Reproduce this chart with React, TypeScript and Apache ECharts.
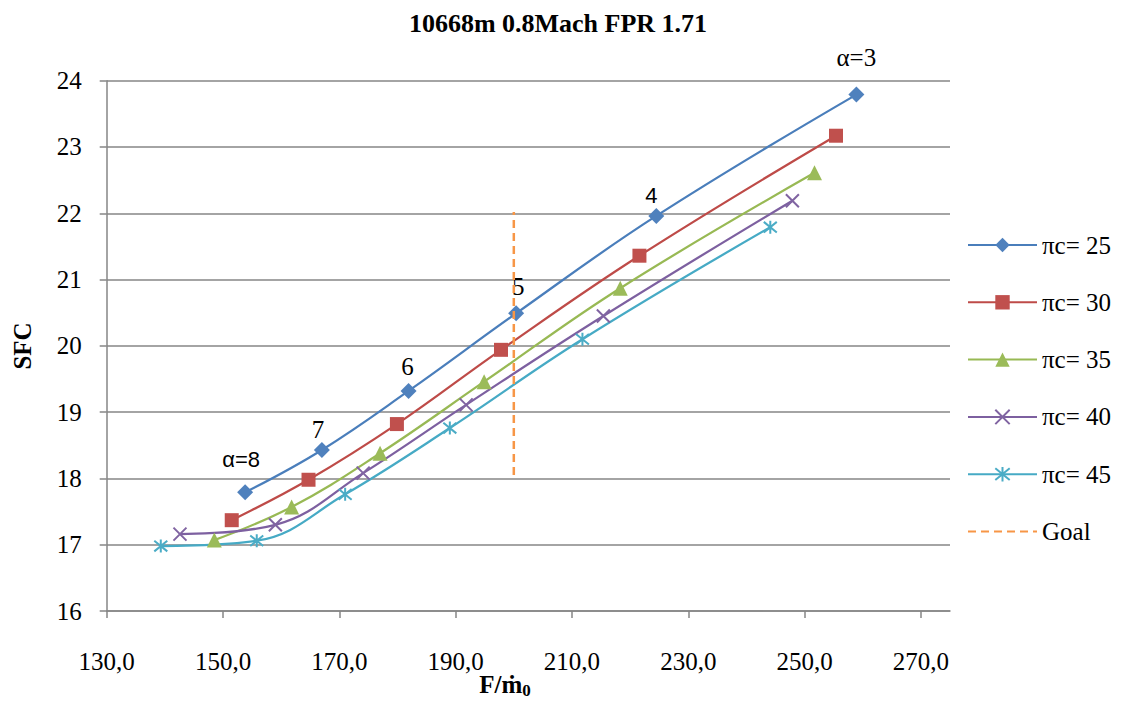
import React, { useEffect, useRef } from "react";
import * as echarts from "echarts";

const chartTitle = "10668m 0.8Mach FPR 1.71";
const xTicks = [130, 150, 170, 190, 210, 230, 250, 270];

const seriesNames = ["πc= 25", "πc= 30", "πc= 35", "πc= 40", "πc= 45"];
const goalName = "Goal";

const pc25X = [153.8, 167.0, 181.9, 200.4, 224.5, 258.9];
const pc25Y = [17.79, 18.43, 19.32, 20.49, 21.96, 23.79];
const pc30X = [151.5, 164.7, 179.9, 197.8, 221.6, 255.4];
const pc30Y = [17.37, 17.98, 18.82, 19.94, 21.36, 23.17];
const pc35X = [148.5, 161.8, 177.0, 194.9, 218.3, 251.7];
const pc35Y = [17.07, 17.57, 18.38, 19.46, 20.87, 22.61];
const pc40X = [142.6, 159.0, 174.1, 191.8, 215.4, 247.9];
const pc40Y = [17.16, 17.3, 18.08, 19.11, 20.45, 22.19];
const pc45X = [139.3, 155.8, 171.0, 189.0, 211.8, 244.1];
const pc45Y = [16.98, 17.06, 17.76, 18.76, 20.1, 21.79];

const goalX = [200, 200];
const goalY = [18.05, 22.02];

const alphaLabels = ["α=8", "7", "6", "5", "4", "α=3"];
const alphaLabelSans = [true, false, false, false, true, false];
const alphaLabelOffsets = [
  [-4, -12.5],
  [-4, -0.5],
  [-1, -4.5],
  [2, -6.5],
  [-5, -0.5],
  [0, -17.5],
];

const markerColors = ["#4F81BD", "#C0504D", "#9BBB59", "#8064A2", "#4BACC6"];
const lineColors = ["#4A7EBB", "#BE4B48", "#98B954", "#7D60A0", "#46AAC5"];
const goalColor = "#F79646";

const SERIF = "Liberation Serif";
const SANS = "Liberation Sans";

const xPath = "path://M0,0L20,20M20,0L0,20";
const starPath = "path://M1,1L19,19M19,1L1,19M10,-1L10,21";

function pairs(xs: number[], ys: number[]) {
  return xs.map((x, i) => [x, ys[i]]);
}

export default function App() {
  const ref = useRef<HTMLDivElement>(null);

  useEffect(() => {
    document.body.style.margin = "0";
    if (!ref.current) return;
    const chart = echarts.init(ref.current, null, { renderer: "svg" });

    const gray = "#868686";

    const mk = (
      idx: number,
      data: any[],
      symbol: string,
      symbolSize: number,
      stroked: boolean
    ) => ({
      name: seriesNames[idx],
      type: "line",
      data,
      smooth: 0.4,
      symbol,
      symbolSize,
      showAllSymbol: true,
      lineStyle: { color: lineColors[idx], width: 2.25 },
      itemStyle: stroked
        ? { color: markerColors[idx], borderColor: markerColors[idx], borderWidth: 2 }
        : { color: markerColors[idx], borderWidth: 0 },
      z: 3,
    });

    const pc25Data = pc25X.map((x, i) => ({
      value: [x, pc25Y[i]],
      label: {
        show: true,
        position: "top",
        distance: 0,
        formatter: alphaLabels[i],
        offset: alphaLabelOffsets[i],
        fontFamily: alphaLabelSans[i] ? SANS : SERIF,
        fontSize: alphaLabelSans[i] ? 22 : 25,
        lineHeight: 24,
        color: "#000",
      },
    }));

    const option: any = {
      animation: false,
      backgroundColor: "#ffffff",
      title: {
        text: chartTitle,
        left: 553,
        top: 5,
        textAlign: "center",
        textStyle: {
          fontFamily: SERIF,
          fontWeight: "bold",
          fontSize: 26,
          color: "#000",
        },
      },
      grid: {
        left: 106.7,
        right: 172,
        top: 80.7,
        bottom: 92,
        containLabel: false,
        outerBoundsMode: "none",
      },
      xAxis: {
        type: "value",
        min: 130,
        max: 275,
        interval: 20,
        axisLine: { show: true, lineStyle: { color: gray, width: 1.5 } },
        axisTick: {
          show: true,
          length: 7,
          customValues: xTicks,
          lineStyle: { color: gray, width: 1.5 },
        },
        axisLabel: {
          customValues: xTicks,
          formatter: (v: number) => v.toFixed(1).replace(".", ","),
          fontFamily: SERIF,
          fontSize: 25,
          color: "#000",
          margin: 38,
        },
        splitLine: { show: false },
      },
      yAxis: {
        type: "value",
        min: 16,
        max: 24,
        interval: 1,
        axisLine: { show: true, lineStyle: { color: gray, width: 1.5 } },
        axisTick: { show: true, length: 7, lineStyle: { color: gray, width: 1.5 } },
        axisLabel: {
          fontFamily: SERIF,
          fontSize: 25,
          color: "#000",
          margin: 25,
        },
        splitLine: { show: true, lineStyle: { color: gray, width: 1.5 } },
      },
      legend: {
        orient: "vertical",
        left: 967,
        top: 232.5,
        padding: 0,
        itemWidth: 69,
        itemHeight: 18,
        itemGap: 32.3,
        selectedMode: false,
        textStyle: {
          fontFamily: SERIF,
          fontSize: 25,
          lineHeight: 25,
          color: "#000",
        },
        data: [...seriesNames, { name: goalName, itemStyle: { opacity: 0 } }],
      },
      graphic: [
        {
          type: "text",
          x: 22,
          y: 346,
          rotation: Math.PI / 2,
          style: {
            text: "SFC",
            font: "bold 25px Liberation Serif",
            fill: "#000",
            textAlign: "center",
            textVerticalAlign: "middle",
          },
        },
        {
          type: "text",
          x: 505,
          y: 684,
          style: {
            text: "{a|F/ṁ}{b|0}",
            fill: "#000",
            textAlign: "center",
            textVerticalAlign: "middle",
            rich: {
              a: {
                fontFamily: SERIF,
                fontWeight: "bold",
                fontSize: 25,
                lineHeight: 28,
              },
              b: {
                fontFamily: SERIF,
                fontWeight: "bold",
                fontSize: 17,
                lineHeight: 28,
                padding: [12, 0, 0, 0],
              },
            },
          },
        },
      ],
      series: [
        mk(0, pc25Data, "diamond", 16, false),
        mk(1, pairs(pc30X, pc30Y), "rect", 14, false),
        mk(2, pairs(pc35X, pc35Y), "triangle", 15, false),
        mk(3, pairs(pc40X, pc40Y), xPath, 13, true),
        mk(4, pairs(pc45X, pc45Y), starPath, 13, true),
        {
          name: goalName,
          type: "line",
          data: pairs(goalX, goalY),
          symbol: "none",
          lineStyle: { color: goalColor, width: 2.5, type: [8, 5] },
          itemStyle: { color: goalColor, opacity: 0 },
          z: 4,
        },
      ],
    };

    chart.setOption(option);
    return () => chart.dispose();
  }, []);

  return <div ref={ref} style={{ width: 1122, height: 703 }} />;
}
